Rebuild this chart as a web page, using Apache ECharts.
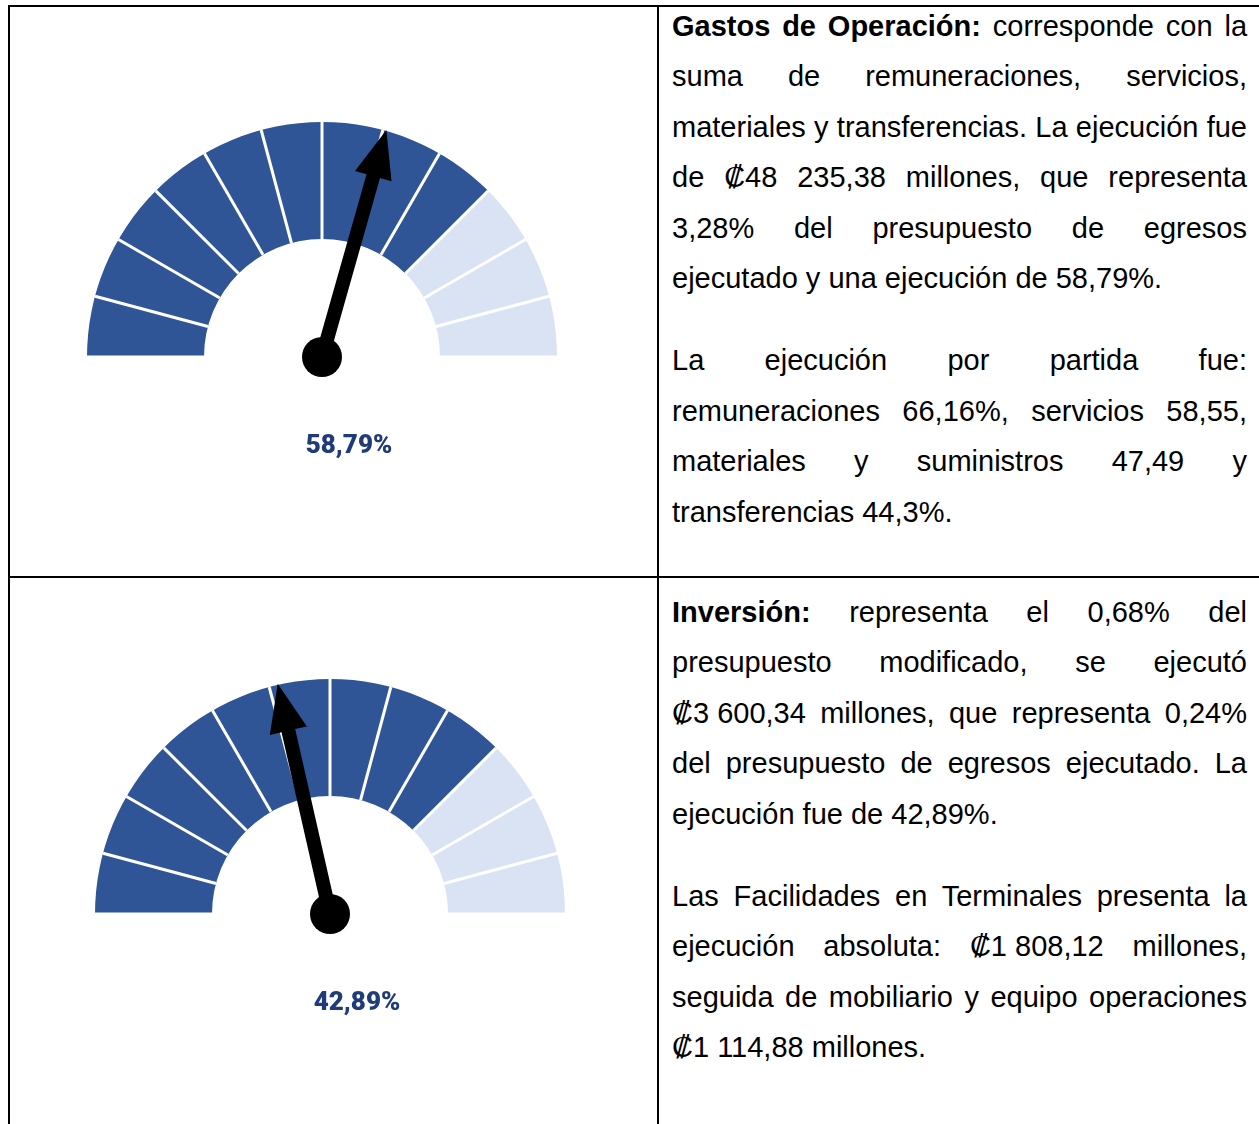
<!DOCTYPE html>
<html>
<head>
<meta charset="utf-8">
<script src="https://cdn.jsdelivr.net/npm/echarts@6/dist/echarts.min.js"></script>
<style>
  html, body { margin: 0; padding: 0; background: #fff; overflow: hidden; }
  body { width: 1259px; height: 1124px; position: relative; }
  .ln { position: absolute; background: #000; }
  .gauge { position: absolute; }
  .txt {
    position: absolute; left: 672px; width: 575px;
    font-family: "Liberation Sans", Arial, sans-serif; font-size: 29px;
    line-height: 50.4px; color: #000;
  }
  .txt p { margin: 0 0 32px 0; }
  .txt span.l { display: block; text-align: justify; text-align-last: justify; white-space: nowrap; }
  .txt span.e { display: block; text-align: left; white-space: nowrap; }
  .txt span.nb { display: inline-block; }
</style>
</head>
<body>
  <div class="ln" style="left:8px;top:5px;width:1300px;height:2px"></div>
  <div class="ln" style="left:8px;top:5px;width:2px;height:1200px"></div>
  <div class="ln" style="left:657px;top:5px;width:2px;height:1200px"></div>
  <div class="ln" style="left:8px;top:576px;width:1300px;height:2px"></div>

  <div class="gauge" id="gauge1" style="left:10px;top:7px;width:647px;height:569px"></div>
  <div class="gauge" id="gauge2" style="left:10px;top:578px;width:647px;height:546px"></div>

  <div class="txt" style="top:1px">
    <p>
      <span class="l"><b>Gastos de Operación:</b> corresponde con la</span>
      <span class="l">suma de remuneraciones, servicios,</span>
      <span class="l">materiales y transferencias. La ejecución fue</span>
      <span class="l">de ₡48 235,38 millones, que representa</span>
      <span class="l">3,28% del presupuesto de egresos</span>
      <span class="e">ejecutado y una ejecución de 58,79%.</span>
    </p>
    <p>
      <span class="l">La ejecución por partida fue:</span>
      <span class="l">remuneraciones 66,16%, servicios 58,55,</span>
      <span class="l">materiales y suministros 47,49 y</span>
      <span class="e">transferencias 44,3%.</span>
    </p>
  </div>

  <div class="txt" style="top:587px">
    <p>
      <span class="l"><b>Inversión:</b> representa el 0,68% del</span>
      <span class="l">presupuesto modificado, se ejecutó</span>
      <span class="l"><span class="nb">₡3 600,34</span> millones, que representa 0,24%</span>
      <span class="l">del presupuesto de egresos ejecutado. La</span>
      <span class="e">ejecución fue de 42,89%.</span>
    </p>
    <p>
      <span class="l">Las Facilidades en Terminales presenta la</span>
      <span class="l">ejecución absoluta: <span class="nb">₡1 808,12</span> millones,</span>
      <span class="l">seguida de mobiliario y equipo operaciones</span>
      <span class="e">₡1 114,88 millones.</span>
    </p>
  </div>

<script>
// valores de ejecucion (%)
var gaugeIds = ["gauge1", "gauge2"];
var gaugeValues = [58.79, 42.89];
// tramos de la escala: 12 bloques, 9 oscuros y 3 claros
var segmentCount = 12;
var darkSegments = 9;

var centers = [[312, 350], [320, 336]];

function fmt(v) {
  return v.toFixed(2).replace(".", ",") + "%";
}

gaugeIds.forEach(function (id, i) {
  var chart = echarts.init(document.getElementById(id));
  var R = 235;
  var band = 117;
  chart.setOption({
    animation: false,
    series: [
      {
        type: "gauge",
        center: centers[i],
        radius: R,
        startAngle: 180,
        endAngle: 0,
        min: 0,
        max: 100,
        splitNumber: segmentCount,
        axisLine: {
          lineStyle: {
            width: band,
            color: [
              [darkSegments / segmentCount, "#2F5597"],
              [1, "#DAE3F3"],
            ],
          },
        },
        splitLine: {
          distance: -band,
          length: band,
          lineStyle: { color: "#fff", width: 3 },
        },
        axisTick: { show: false },
        axisLabel: { show: false },
        pointer: {
          icon: "path://M12,236 L12,48 L0,48 L19,0 L38,48 L26,48 L26,236 Z",
          length: 236,
          width: 38,
          offsetCenter: [0, 0],
          itemStyle: { color: "#000" },
        },
        anchor: {
          show: true,
          showAbove: true,
          size: 40,
          itemStyle: { color: "#000" },
        },
        title: { show: false },
        detail: {
          offsetCenter: [27, 89],
          formatter: fmt,
          color: "#1F3B78",
          fontSize: 26,
          fontWeight: 900,
          fontFamily: "Roboto, sans-serif",
        },
        data: [{ value: gaugeValues[i] }],
      },
    ],
  });
});
</script>
</body>
</html>
